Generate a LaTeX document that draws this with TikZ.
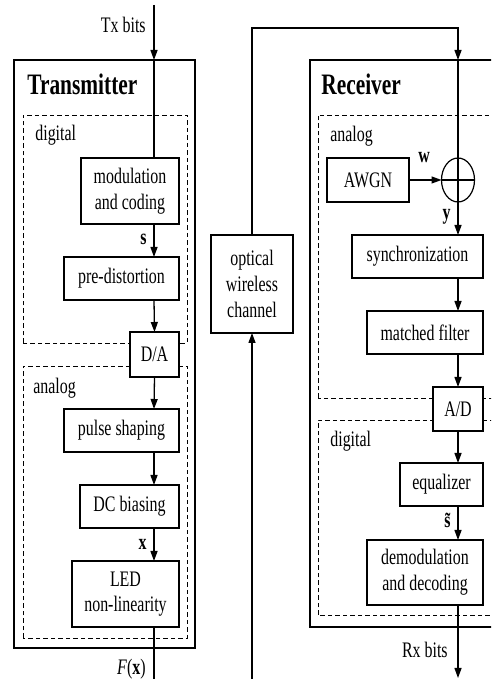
\documentclass[tikz,border=0pt]{standalone}
\usepackage{fontspec}
\setmainfont{Liberation Serif}[FakeStretch=0.72]
\usetikzlibrary{arrows.meta,shapes.geometric}

\begin{document}
\begin{tikzpicture}[
    block/.style={draw, line width=0.024cm, fill=white, align=center, inner sep=0pt, outer sep=0pt},
    frame/.style={draw, line width=0.024cm, inner sep=0pt, outer sep=0pt},
    area/.style={draw, line width=0.018cm, dash pattern=on 0.09cm off 0.06cm},
    wire/.style={line width=0.026cm},
    arr/.style={wire, -{Triangle[length=0.2cm,width=0.14cm]}},
    title/.style={font=\fontsize{16.9}{19}\selectfont\bfseries, anchor=base west, inner sep=0pt},
    tag/.style={anchor=base west, inner sep=0pt},
    sig/.style={anchor=base east, inner sep=0pt, font=\bfseries}]
    \useasboundingbox (0,0) rectangle (9.82,13.58);
    \clip (0,0) rectangle (9.82,13.58);
    {\fontsize{12.6}{14.6}\selectfont

    % Columns of the signal path
    \coordinate (colL) at (3.08,0);
    \coordinate (colC) at (5.04,0);
    \coordinate (colR) at (9.16,0);

    % Drawing frame of transmitter
    \node [frame, minimum width=3.62cm, minimum height=11.76cm] (tx) at (2.09,6.50) {};
    \node [title] (txname) at (0.54,11.68) {Transmitter};
    \draw [area] (0.46,6.72) rectangle (3.74,11.28);
    \node [tag] (txdig) at (0.70,10.76) {digital};
    \draw [area] (0.46,0.82) rectangle (3.74,6.26);
    \node [tag] (txana) at (0.66,5.70) {analog};

    % Drawing frame of receiver
    \node [frame, minimum width=4.00cm, minimum height=11.34cm] (rx) at (8.20,6.71) {};
    \node [title] (rxname) at (6.42,11.68) {Receiver};
    \draw [area] (6.36,5.62) rectangle (10.10,11.28);
    \node [tag] (rxana) at (6.60,10.74) {analog};
    \draw [area] (6.36,1.28) rectangle (10.10,5.18);
    \node [tag] (rxdig) at (6.60,4.64) {digital};

    % Blocks of transmitter
    \node [block, anchor=east, minimum width=1.96cm, minimum height=1.32cm] (mod) at (3.58,9.76) {modulation\\and coding};
    \node [block, anchor=east, minimum width=2.30cm, minimum height=0.86cm] (pre) at (3.58,8.01) {pre-distortion};
    \node [block, anchor=east, minimum width=0.98cm, minimum height=0.90cm] (da) at (3.58,6.49) {D/A};
    \node [block, anchor=east, minimum width=2.30cm, minimum height=0.86cm] (pulse) at (3.58,4.97) {pulse shaping};
    \node [block, anchor=east, minimum width=1.98cm, minimum height=0.86cm] (dc) at (3.58,3.45) {DC biasing};
    \node [block, anchor=east, minimum width=2.14cm, minimum height=1.32cm] (led) at (3.58,1.70) {LED\\non-linearity};

    % Block of channel
    \node [block, minimum width=1.64cm, minimum height=1.96cm] (ch) at (5.04,7.90) {optical\\wireless\\channel};

    % Blocks of receiver
    \node [block, minimum width=1.64cm, minimum height=0.88cm] (awgn) at (7.36,9.98) {AWGN};
    \node [block, ellipse, minimum width=0.66cm, minimum height=0.88cm] (add) at (9.16,9.98) {};
    \node [block, anchor=east, minimum width=2.62cm, minimum height=0.86cm] (sync) at (9.66,8.45) {synchronization};
    \node [block, anchor=east, minimum width=2.32cm, minimum height=0.86cm] (mf) at (9.66,6.93) {matched filter};
    \node [block, anchor=east, minimum width=1.00cm, minimum height=0.88cm] (ad) at (9.66,5.40) {A/D};
    \node [block, anchor=east, minimum width=1.66cm, minimum height=0.86cm] (eq) at (9.66,3.89) {equalizer};
    \node [block, anchor=east, minimum width=2.32cm, minimum height=1.30cm] (dem) at (9.66,2.13) {demodulation\\and decoding};

    % Drawing path of transmitter
    \coordinate (txin) at (3.08,13.48);
    \coordinate (txout) at (3.08,-0.20);
    \draw [arr] (txin) -- (tx.north -| colL);
    \draw [wire] (tx.north -| colL) -- (mod.north -| colL);
    \draw [arr] (mod.south -| colL) -- (pre.north -| colL);
    \draw [arr] (pre.south -| colL) -- (da.north);
    \draw [arr] (da.south) -- (pulse.north -| colL);
    \draw [arr] (pulse.south -| colL) -- (dc.north -| colL);
    \draw [arr] (dc.south -| colL) -- (led.north -| colL);
    \draw [wire] (led.south -| colL) -- (txout);
    \node [anchor=base east, inner sep=0pt] (txbits) at (2.92,12.92) {Tx bits};
    \node [sig] (s) at (2.94,8.68) {s};
    \node [sig] (x) at (2.94,2.58) {x};
    \node [anchor=base east, inner sep=0pt] (fx) at (2.92,0.08) {\textit{F}(\textbf{x})};

    % Drawing path of channel
    \coordinate (chin) at (5.04,-0.20);
    \coordinate (bend) at (9.16,13.02);
    \draw [arr] (chin) -- (ch.south);
    \draw [arr] (ch.north) |- (bend) -- (rx.north -| colR);

    % Drawing path of receiver
    \draw [wire] (rx.north -| colR) -- (add.north);
    \draw [wire] (add.north) -- (add.south) (add.west) -- (add.east);
    \draw [arr] (awgn.east) -- (add.west);
    \draw [arr] (add.south) -- (sync.north -| colR);
    \draw [arr] (sync.south -| colR) -- (mf.north -| colR);
    \draw [arr] (mf.south -| colR) -- (ad.north);
    \draw [arr] (ad.south) -- (eq.north -| colR);
    \draw [arr] (eq.south -| colR) -- (dem.north -| colR);
    \coordinate (rxout) at (9.16,0.02);
    \draw [arr] (dem.south -| colR) -- (rxout);
    \node [anchor=base, inner sep=0pt, font=\bfseries] (w) at (8.48,10.32) {w};
    \node [sig] (y) at (9.02,9.18) {y};
    \node [sig] (st) at (9.02,3.02) {\~{s}};
    \node [anchor=base east, inner sep=0pt] (rxbits) at (8.96,0.42) {Rx bits};
    }
\end{tikzpicture}
\end{document}
